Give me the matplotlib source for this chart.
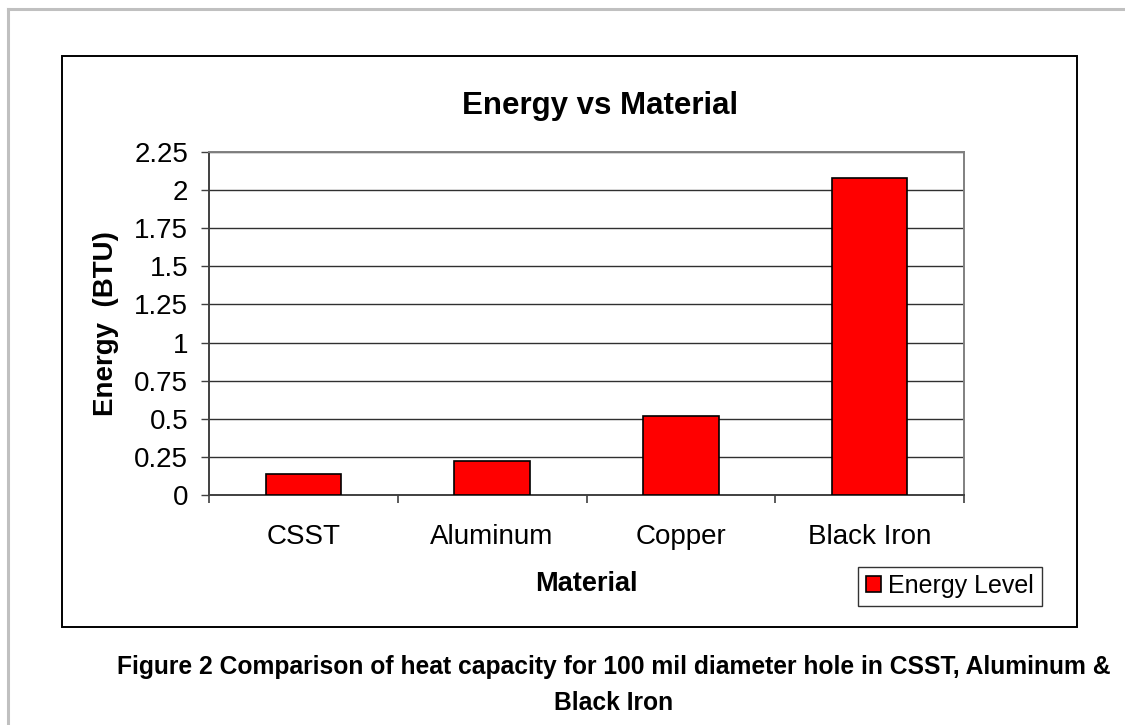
import matplotlib
matplotlib.use("Agg")
import matplotlib.pyplot as plt
from matplotlib.patches import Rectangle
from matplotlib.lines import Line2D

plt.rcParams['font.family'] = ['Liberation Sans', 'DejaVu Sans']

# --- data ---
materials = ["CSST", "Aluminum", "Copper", "Black Iron"]
energy = [0.14, 0.22, 0.52, 2.08]
y_ticks = [0, 0.25, 0.5, 0.75, 1, 1.25, 1.5, 1.75, 2, 2.25]
y_tick_labels = ["0", "0.25", "0.5", "0.75", "1", "1.25", "1.5", "1.75", "2", "2.25"]

W, H = 1125, 725
fig = plt.figure(figsize=(W / 100, H / 100), dpi=100)

def fx(px):
    return px / W

def fy(py):
    return 1 - py / H

# outer page border (light gray)
fig.add_artist(Line2D([fx(8), fx(8)], [fy(9), 0], color="#c0c0c0", lw=2.2))
fig.add_artist(Line2D([fx(8), 1], [fy(9), fy(9)], color="#c0c0c0", lw=2.2))

# chart frame
fig.add_artist(Rectangle((fx(62), fy(627)), fx(1077) - fx(62), fy(56) - fy(627),
                         fill=False, edgecolor="black", lw=1.4))

# --- plot area ---
left, top, right, bottom = 209, 152, 964, 495
ax = fig.add_axes([fx(left), fy(bottom), fx(right) - fx(left), fy(top) - fy(bottom)])

x = list(range(len(materials)))
ax.bar(x, energy, width=0.4, color="#ff0000", edgecolor="black", lw=1.2,
       zorder=3, label="Energy Level")

ax.set_xlim(-0.5, len(materials) - 0.5)
ax.set_ylim(0, 2.25)
ax.set_yticks(y_ticks)
ax.set_yticklabels(y_tick_labels)
ax.yaxis.grid(True, color="#303030", lw=1.0, zorder=0)

ax.set_xticks(x)
ax.set_xticklabels(materials)
ax.set_xticks([i - 0.5 for i in range(len(materials) + 1)], minor=True)
ax.tick_params(axis="x", which="major", length=0, pad=21, labelsize=20)
ax.tick_params(axis="x", which="minor", length=6, width=1.2, direction="out", color="#404040")
ax.tick_params(axis="y", length=6, width=1.0, pad=9, labelsize=20, color="#404040")

for s in ["left", "bottom"]:
    ax.spines[s].set_color("#404040")
    ax.spines[s].set_linewidth(1.4)
for s in ["top", "right"]:
    ax.spines[s].set_color("#808080")
    ax.spines[s].set_linewidth(1.4)

# labels
fig.text(fx(600), fy(106), "Energy vs Material", ha="center", va="center",
         fontsize=22.5, fontweight="bold")
fig.text(fx(586), fy(584), "Material", ha="center", va="center",
         fontsize=19.5, fontweight="bold")
fig.text(fx(106), fy(324), "Energy  (BTU)", ha="center", va="center",
         rotation=90, fontsize=20, fontweight="bold")

# legend
leg = fig.legend(handles=[Rectangle((0, 0), 1, 1, facecolor="#ff0000", edgecolor="black", lw=1.2)],
                 labels=["Energy Level"], loc="center",
                 bbox_to_anchor=(fx(950), fy(586)), fontsize=18, frameon=True,
                 fancybox=False, handlelength=0.6, handleheight=0.6,
                 handletextpad=0.3, borderpad=0.3, borderaxespad=0)
leg.get_frame().set_edgecolor("black")
leg.get_frame().set_linewidth(1.0)

# caption
fig.text(fx(614), fy(667), "Figure 2 Comparison of heat capacity for 100 mil diameter hole in CSST, Aluminum &",
         ha="center", va="center", fontsize=17.7, fontweight="bold")
fig.text(fx(614), fy(703), "Black Iron", ha="center", va="center",
         fontsize=17.7, fontweight="bold")

fig.savefig("out.png", dpi=100, facecolor="white")
